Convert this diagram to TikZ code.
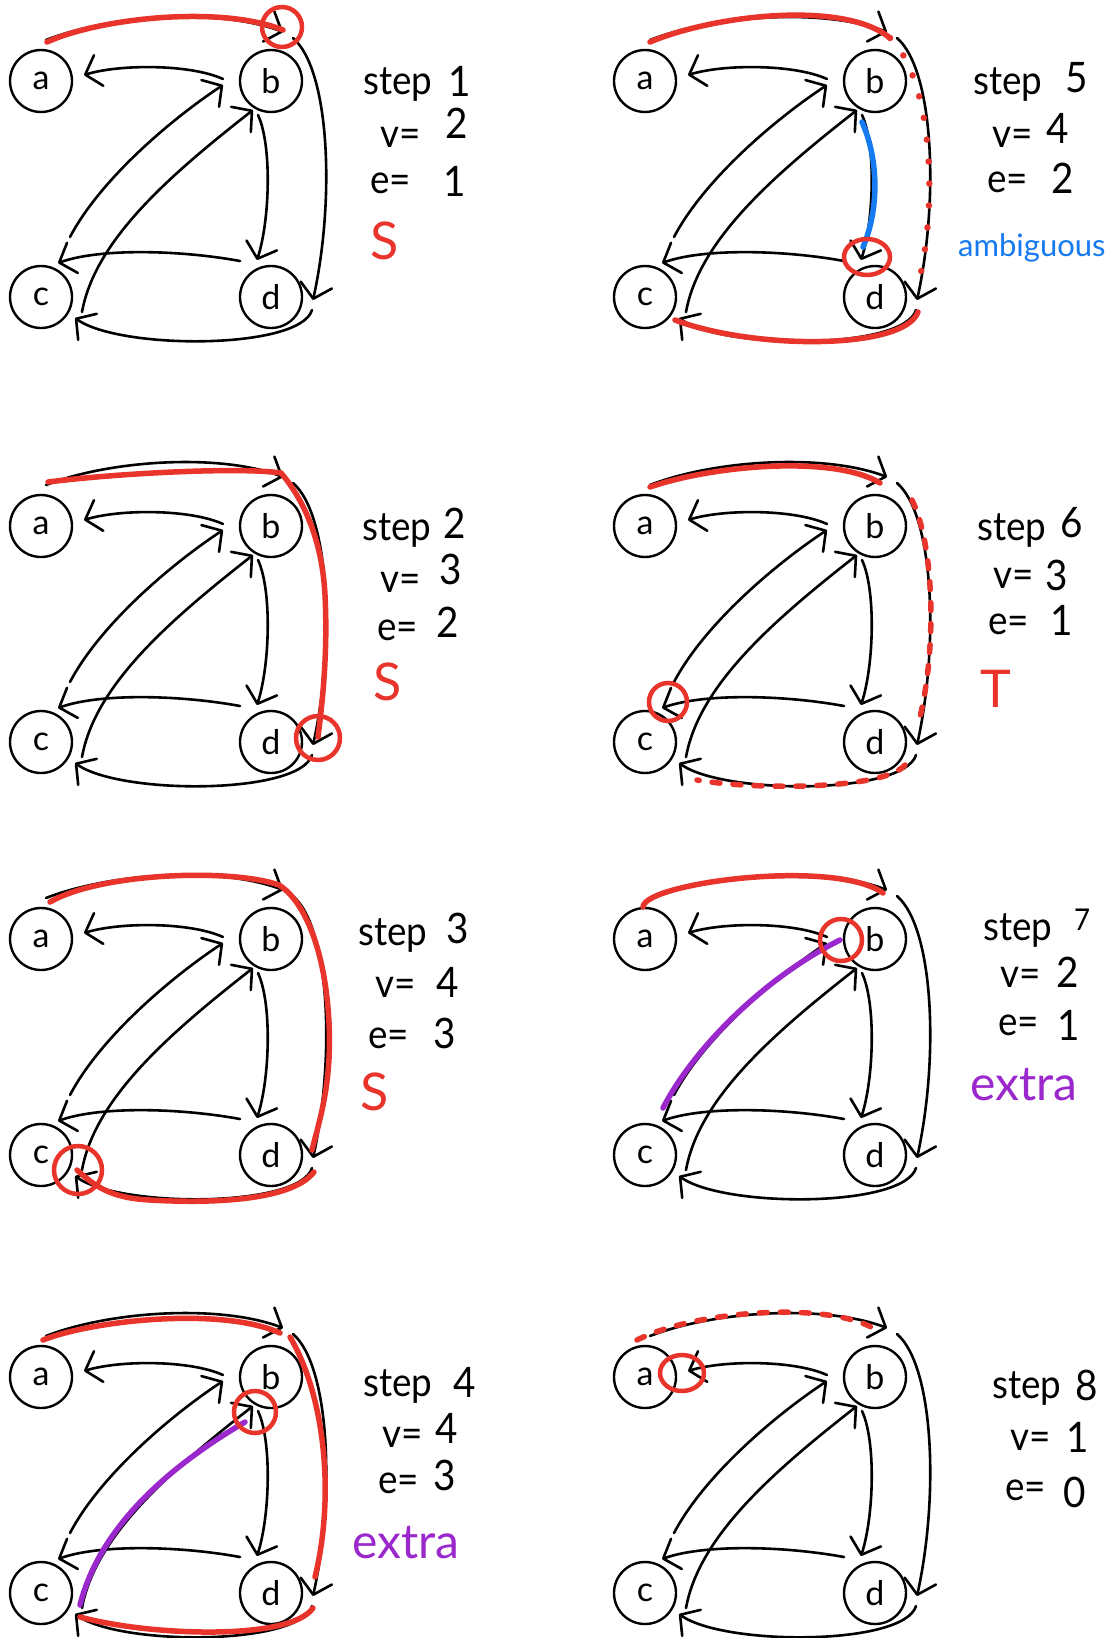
\documentclass[tikz,border=0pt]{standalone}
\usepackage{fontspec}
\setmainfont{Lato}
\newfontfamily\hw[FakeStretch=0.92]{Lato}
\usetikzlibrary{arrows.meta,shapes.geometric}
\definecolor{hred}{RGB}{232,52,42}
\definecolor{hblue}{RGB}{22,122,240}
\definecolor{hpurple}{RGB}{155,40,205}
\tikzset{
  vtx/.style={circle, draw, line width=2.4pt, minimum size=62pt, inner sep=0pt, font=\fontsize{34}{34}\selectfont},
  edgeln/.style={line width=2.6pt, line cap=round, line join=round},
  arr/.style={-{Straight Barb[length=14pt,width=32pt,round]}},
  hl/.style={line width=5.5pt, line cap=round, draw=hred},
  hldot/.style={line width=6.5pt, line cap=round, draw=hred, dash pattern=on 0pt off 22pt},
  hldash/.style={line width=5.5pt, line cap=round, draw=hred, dash pattern=on 8pt off 13pt},
  hlpur/.style={line width=5.5pt, line cap=round, draw=hpurple},
  hlblue/.style={line width=5.5pt, line cap=round, draw=hblue},
  ring/.style={circle, draw=hred, line width=4.5pt, inner sep=0pt},
  oring/.style={ellipse, draw=hred, line width=4.5pt, inner sep=0pt},
  txt/.style={font=\hw\fontsize{40}{40}\selectfont, inner sep=0pt, anchor=base west},
  dig/.style={font=\hw\fontsize{42}{42}\selectfont, inner sep=0pt, anchor=base},
  kwS/.style={font=\fontsize{52}{52}\selectfont, inner sep=0pt, anchor=base west, text=hred},
  kwx/.style={font=\fontsize{48}{48}\selectfont, inner sep=0pt, anchor=base west, text=hpurple},
  kwa/.style={font=\fontsize{31}{31}\selectfont, inner sep=0pt, anchor=base west, text=hblue},
}
\newcommand\drawpanel[3]{%
\begin{scope}[shift={(#2,#3)}]
  \node[vtx] (a#1) at (41,81) {a};
  \node[vtx] (b#1) at (271,81) {b};
  \node[vtx] (c#1) at (41,297) {c};
  \node[vtx] (d#1) at (271,297) {d};
  \coordinate (ab#1s) at (46,40);   \coordinate (ab#1e) at (283,32);
  \coordinate (bd#1s) at (293,38);  \coordinate (bd#1e) at (313,300);
  \coordinate (dc#1s) at (312,310); \coordinate (dc#1e) at (75,318);
  \coordinate (ba#1s) at (223,79);  \coordinate (ba#1e) at (84,75);
  \coordinate (cb#1s) at (70,237);  \coordinate (cb#1e) at (223,85);
  \coordinate (cx#1s) at (82,312);  \coordinate (cx#1e) at (253,110);
  \coordinate (bx#1s) at (258,115); \coordinate (bx#1e) at (257,260);
  \coordinate (dx#1s) at (240,261); \coordinate (dx#1e) at (58,263);
  \draw[edgeln,arr] (ab#1s) .. controls (110,15) and (220,8) .. (ab#1e);
  \draw[edgeln,arr] (bd#1s) .. controls (330,70) and (335,200) .. (bd#1e);
  \draw[edgeln,arr] (dc#1s) .. controls (300,350) and (120,350) .. (dc#1e);
  \draw[edgeln,arr] (ba#1s) .. controls (190,64) and (120,64) .. (ba#1e);
  \draw[edgeln,arr] (cb#1s) .. controls (100,180) and (170,120) .. (cb#1e);
  \draw[edgeln,arr] (cx#1s) .. controls (95,240) and (170,175) .. (cx#1e);
  \draw[edgeln,arr] (bx#1s) .. controls (272,145) and (270,220) .. (bx#1e);
  \draw[edgeln,arr] (dx#1s) .. controls (180,250) and (100,248) .. (dx#1e);
\end{scope}}
\begin{document}
\begin{tikzpicture}[x=1pt,y=-1pt]
\fill[white] (0,0) rectangle (1114,1638);
\useasboundingbox (0,0) rectangle (1114,1638);

\drawpanel{1}{0}{0}
\drawpanel{2}{0}{445}
\drawpanel{3}{0}{858}
\drawpanel{4}{0}{1296}
\drawpanel{5}{604}{0}
\drawpanel{6}{604}{445}
\drawpanel{7}{604}{858}
\drawpanel{8}{604}{1296}

% step 1
\begin{scope}[shift={(0,0)}]
  \draw[hl] (47,42) .. controls (100,18) and (220,5) .. (283,30);
  \node[ring, minimum size=40pt] (r1) at (282,27) {};
\end{scope}
% step 2
\begin{scope}[shift={(0,445)}]
  \draw[hl] (48,37) .. controls (120,28) and (240,22) .. (281,28)
            .. controls (300,50) and (322,90) .. (325,150)
            .. controls (328,210) and (322,260) .. (318,292);
  \node[ring, minimum size=44pt] (r2) at (318,293) {};
\end{scope}
% step 3
\begin{scope}[shift={(0,858)}]
  \draw[hl] (50,44) .. controls (100,15) and (230,10) .. (279,27)
            .. controls (300,40) and (322,80) .. (328,150)
            .. controls (334,220) and (320,260) .. (312,292);
  \draw[hl] (314,314) .. controls (290,345) and (200,345) .. (150,342)
            .. controls (110,340) and (95,328) .. (77,312);
  \node[ring, minimum size=48pt] (r3) at (78,312) {};
\end{scope}
% step 4
\begin{scope}[shift={(0,1296)}]
  \draw[hl] (43,44) .. controls (90,25) and (220,10) .. (280,37);
  \draw[hl] (290,41) .. controls (325,100) and (335,200) .. (315,281);
  \draw[hl] (313,312) .. controls (290,345) and (150,340) .. (80,321);
  \draw[hlpur] (80,309) .. controls (100,230) and (170,170) .. (245,126);
  \node[ring, minimum size=42pt] (r4) at (255,116) {};
\end{scope}
% step 5
\begin{scope}[shift={(604,0)}]
  \draw[hl] (46,42) .. controls (110,15) and (240,0) .. (286,38);
  \draw[hldot] (286,38) .. controls (325,75) and (335,190) .. (316,277);
  \draw[hl] (314,312) .. controls (300,350) and (150,350) .. (71,320);
  \draw[hlblue] (258,122) .. controls (275,160) and (275,210) .. (259,247);
  \node[oring, minimum width=46pt, minimum height=36pt] (r5) at (263,257) {};
\end{scope}
% step 6
\begin{scope}[shift={(604,445)}]
  \draw[hl] (46,42) .. controls (110,20) and (230,10) .. (276,38);
  \draw[hldash] (308,55) .. controls (330,100) and (333,200) .. (316,272);
  \draw[hldash] (301,320) .. controls (280,345) and (150,345) .. (93,335);
  \node[ring, minimum size=38pt] (r6) at (64,257) {};
\end{scope}
% step 7
\begin{scope}[shift={(604,858)}]
  \draw[hl] (39,49) .. controls (40,25) and (230,0) .. (279,35);
  \draw[hlpur] (59,250) .. controls (90,190) and (160,120) .. (236,82);
  \node[ring, minimum size=42pt] (r7) at (237,82) {};
\end{scope}
% step 8
\begin{scope}[shift={(604,1296)}]
  \draw[hldash] (33,44) .. controls (90,15) and (220,5) .. (269,32);
  \node[oring, minimum width=44pt, minimum height=36pt] (r8) at (78,77) {};
\end{scope}

% texts step 1
\node[txt] (s1) at (363,94) {step};
\node[dig] (s1n) at (460,96) {1};
\node[txt] (v1) at (380,147) {v=};
\node[dig] (v1n) at (457,138) {2};
\node[txt] (e1) at (370,193) {e=};
\node[dig] (e1n) at (455,196) {1};
\node[kwS] (k1) at (370,259) {S};
% step 2
\node[txt] (s2) at (362,540) {step};
\node[dig] (s2n) at (455,538) {2};
\node[txt] (v2) at (380,592) {v=};
\node[dig] (v2n) at (451,584) {3};
\node[txt] (e2) at (377,640) {e=};
\node[dig] (e2n) at (448,637) {2};
\node[kwS] (k2) at (373,700) {S};
% step 3
\node[txt] (s3) at (358,945) {step};
\node[dig] (s3n) at (458,943) {3};
\node[txt] (v3) at (375,997) {v=};
\node[dig] (v3n) at (448,997) {4};
\node[txt] (e3) at (368,1048) {e=};
\node[dig] (e3n) at (445,1048) {3};
\node[kwS] (k3) at (360,1110) {S};
% step 4
\node[txt] (s4) at (363,1396) {step};
\node[dig] (s4n) at (465,1397) {4};
\node[txt] (v4) at (382,1447) {v=};
\node[dig] (v4n) at (447,1443) {4};
\node[txt] (e4) at (378,1493) {e=};
\node[dig] (e4n) at (445,1490) {3};
\node[kwx] (k4) at (352,1558) {extra};
% step 5
\node[txt] (s5) at (973,94) {step};
\node[dig] (s5n) at (1077,92) {5};
\node[txt] (v5) at (992,147) {v=};
\node[dig] (v5n) at (1058,143) {4};
\node[txt] (e5) at (987,192) {e=};
\node[dig] (e5n) at (1063,193) {2};
\node[kwa] (k5) at (958,256) {ambiguous};
% step 6
\node[txt] (s6) at (977,540) {step};
\node[dig] (s6n) at (1072,537) {6};
\node[txt] (v6) at (993,588) {v=};
\node[dig] (v6n) at (1057,590) {3};
\node[txt] (e6) at (988,634) {e=};
\node[dig] (e6n) at (1062,635) {1};
\node[kwS] (k6) at (980,707) {T};
% step 7
\node[txt] (s7) at (983,940) {step};
\node[dig, font=\hw\fontsize{30}{30}\selectfont] (s7n) at (1082,930) {7};
\node[txt] (v7) at (1000,987) {v=};
\node[dig] (v7n) at (1068,987) {2};
\node[txt] (e7) at (998,1035) {e=};
\node[dig] (e7n) at (1069,1040) {1};
\node[kwx] (k7) at (970,1100) {extra};
% step 8
\node[txt] (s8) at (992,1398) {step};
\node[dig] (s8n) at (1087,1400) {8};
\node[txt] (v8) at (1010,1450) {v=};
\node[dig] (v8n) at (1078,1452) {1};
\node[txt] (e8) at (1005,1500) {e=};
\node[dig] (e8n) at (1075,1507) {0};
\end{tikzpicture}
\end{document}
